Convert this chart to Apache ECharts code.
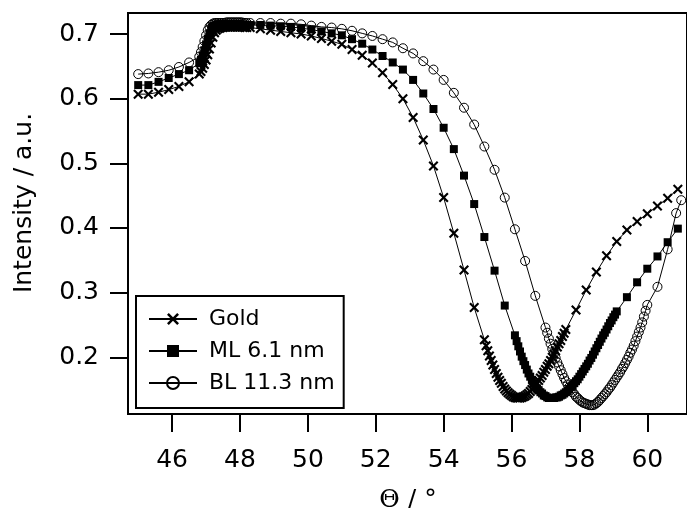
<!DOCTYPE html>
<html><head><meta charset="utf-8">
<script src="https://cdn.jsdelivr.net/npm/echarts@6/dist/echarts.min.js"></script>
<style>html,body{margin:0;padding:0;background:#fff}#c{width:687px;height:508px}</style>
</head><body><div id="c"></div>
<script>
// ---------- data (angle in degrees, intensity in a.u.) ----------
const startAngles = [45.0,45.3,45.6,45.9,46.2,46.5,46.8];
const criticalAngles = [46.85,46.9,46.95,47.0,47.05,47.1,47.15,47.2,47.25,47.3,47.35,47.4,47.45,47.5,47.55,47.6,47.65,47.7,47.75,47.8,47.85,47.9,47.95,48.0,48.05,48.1,48.15,48.2];

const goldAnglesTail = [48.3,48.6,48.9,49.2,49.5,49.8,50.1,50.4,50.7,51.0,51.3,51.6,51.9,52.2,52.5,52.8,53.1,53.4,53.7,54.0,54.3,54.6,54.9,
 55.2,55.25,55.3,55.35,55.4,55.45,55.5,55.55,55.6,55.65,55.7,55.75,55.8,55.85,55.9,55.95,56.0,56.05,56.1,56.15,56.2,56.25,56.3,56.35,56.4,56.45,56.5,56.55,56.6,56.65,56.7,56.75,56.8,56.85,56.9,56.95,57.0,57.05,57.1,57.15,57.2,57.25,57.3,57.35,57.4,57.45,57.5,57.55,57.6,
 57.9,58.2,58.5,58.8,59.1,59.4,59.7,60.0,60.3,60.6,60.9];
const goldStart = [0.607,0.607,0.610,0.614,0.619,0.626,0.638];
const goldCritical = [0.642,0.647,0.653,0.660,0.668,0.677,0.686,0.695,0.702,0.706,0.708,0.709,0.710,0.710,0.711,0.711,0.711,0.711,0.711,0.711,0.711,0.711,0.711,0.711,0.711,0.711,0.710,0.710];
const goldTail = [0.710,0.708,0.706,0.704,0.702,0.700,0.697,0.693,0.689,0.684,0.676,0.667,0.655,0.640,0.622,0.600,0.571,0.536,0.496,0.447,0.392,0.335,0.277,
 0.227,0.218,0.210,0.202,0.195,0.188,0.181,0.175,0.169,0.164,0.160,0.155,0.151,0.148,0.145,0.143,0.141,0.139,0.138,0.137,0.137,0.137,0.138,0.139,0.140,0.142,0.144,0.147,0.150,0.153,0.157,0.160,0.164,0.168,0.172,0.177,0.181,0.186,0.190,0.195,0.200,0.205,0.210,0.216,0.221,0.226,0.232,0.237,0.243,
 0.273,0.304,0.332,0.357,0.379,0.397,0.410,0.422,0.434,0.446,0.460];

const mlAnglesTail = [48.3,48.6,48.9,49.2,49.5,49.8,50.1,50.4,50.7,51.0,51.3,51.6,51.9,52.2,52.5,52.8,53.1,53.4,53.7,54.0,54.3,54.6,54.9,55.2,55.5,55.8,
 56.1,56.15,56.2,56.25,56.3,56.35,56.4,56.45,56.5,56.55,56.6,56.65,56.7,56.75,56.8,56.85,56.9,56.95,57.0,57.05,57.1,57.15,57.2,57.25,57.3,57.35,57.4,57.45,57.5,57.55,57.6,57.65,57.7,57.75,57.8,57.85,57.9,57.95,58.0,58.05,58.1,58.15,58.2,58.25,58.3,58.35,58.4,58.45,58.5,58.55,58.6,58.65,58.7,58.75,58.8,58.85,58.9,58.95,59.0,59.05,59.1,
 59.4,59.7,60.0,60.3,60.6,60.9];
const mlStart = [0.621,0.621,0.626,0.632,0.638,0.644,0.655];
const mlCritical = [0.660,0.667,0.675,0.684,0.693,0.701,0.707,0.711,0.713,0.714,0.715,0.715,0.715,0.715,0.715,0.715,0.715,0.715,0.715,0.715,0.715,0.715,0.715,0.715,0.715,0.714,0.714,0.714];
const mlTail = [0.714,0.714,0.713,0.712,0.711,0.709,0.707,0.704,0.701,0.698,0.692,0.685,0.676,0.666,0.656,0.645,0.629,0.608,0.584,0.555,0.522,0.481,0.437,0.386,0.334,0.280,
 0.234,0.225,0.217,0.209,0.201,0.194,0.188,0.181,0.175,0.170,0.165,0.160,0.156,0.152,0.149,0.146,0.144,0.141,0.140,0.138,0.137,0.137,0.137,0.137,0.138,0.138,0.139,0.141,0.142,0.144,0.146,0.148,0.151,0.154,0.157,0.160,0.163,0.166,0.170,0.174,0.178,0.182,0.186,0.190,0.195,0.199,0.204,0.209,0.214,0.219,0.224,0.229,0.234,0.238,0.243,0.248,0.253,0.257,0.262,0.266,0.271,
 0.293,0.316,0.337,0.356,0.378,0.399];

const blAnglesTail = [48.3,48.6,48.9,49.2,49.5,49.8,50.1,50.4,50.7,51.0,51.3,51.6,51.9,52.2,52.5,52.8,53.1,53.4,53.7,54.0,54.3,54.6,54.9,55.2,55.5,55.8,56.1,56.4,56.7,
 57.0,57.05,57.1,57.15,57.2,57.25,57.3,57.35,57.4,57.45,57.5,57.55,57.6,57.65,57.7,57.75,57.8,57.85,57.9,57.95,58.0,58.05,58.1,58.15,58.2,58.25,58.3,58.35,
 58.4,58.45,58.5,58.55,58.6,58.65,58.7,58.75,58.8,58.85,58.9,58.95,59.0,59.05,59.1,59.15,59.2,59.25,59.3,59.35,59.4,59.45,59.5,59.55,59.6,59.65,59.7,59.75,59.8,59.85,59.9,59.95,60.0,
 60.3,60.6,60.85,61.0];
const blStart = [0.638,0.639,0.641,0.644,0.649,0.656,0.665];
const blCritical = [0.672,0.680,0.689,0.698,0.706,0.711,0.714,0.716,0.717,0.717,0.717,0.717,0.717,0.717,0.717,0.718,0.718,0.718,0.718,0.718,0.718,0.718,0.718,0.718,0.718,0.717,0.717,0.717];
const blTail = [0.717,0.717,0.717,0.716,0.716,0.715,0.713,0.711,0.710,0.708,0.705,0.701,0.697,0.692,0.687,0.678,0.670,0.658,0.645,0.629,0.609,0.586,0.560,0.526,0.490,0.447,0.398,0.349,0.295,
 0.246,0.238,0.229,0.221,0.213,0.206,0.199,0.192,0.186,0.180,0.174,0.168,0.163,0.158,0.154,0.150,0.146,0.143,0.139,0.137,0.134,0.132,0.130,0.129,0.128,0.127,0.126,0.126,
 0.126,0.127,0.129,0.131,0.134,0.137,0.140,0.143,0.146,0.150,0.153,0.157,0.161,0.165,0.169,0.173,0.177,0.182,0.186,0.191,0.196,0.201,0.207,0.212,0.218,0.225,0.232,0.239,0.246,0.254,0.263,0.272,0.281,
 0.309,0.367,0.423,0.443];

const xTicks = [46,48,50,52,54,56,58,60];
const yTicks = [0.2,0.3,0.4,0.5,0.6,0.7];
const seriesNames = ['Gold','ML 6.1 nm','BL 11.3 nm'];
const xTitle = '{t|Θ} / °';
const yTitle = 'Intensity / a.u.';

// ---------- build ----------
function pairs(a, b){ return a.map((x,i)=>[x,b[i]]); }
const goldData = pairs([...startAngles,...criticalAngles,...goldAnglesTail],[...goldStart,...goldCritical,...goldTail]);
const mlData = pairs([...startAngles,...criticalAngles,...mlAnglesTail],[...mlStart,...mlCritical,...mlTail]);
const blData = pairs([...startAngles,...criticalAngles,...blAnglesTail],[...blStart,...blCritical,...blTail]);

const FONT = '"DejaVu Sans", Verdana, sans-serif';
const SERIF = '"DejaVu Serif", "Liberation Serif", serif';
const crossPath = 'path://M0,1.5L1.5,0L5,3.5L8.5,0L10,1.5L6.5,5L10,8.5L8.5,10L5,6.5L1.5,10L0,8.5L3.5,5Z';

const chart = echarts.init(document.getElementById('c'), null, {renderer:'canvas'});
const common = {
  type:'line', showAllSymbol:true, animation:false, silent:true,
  lineStyle:{color:'#000', width:1},
  emphasis:{disabled:true}
};
chart.setOption({
  backgroundColor:'#fff',
  animation:false,
  grid:{left:128, top:13, right:-2, height:401, show:true, borderColor:'#000', borderWidth:2, backgroundColor:'transparent'},
  xAxis:{
    type:'value', min:44.70, max:61.17,
    axisLine:{show:true, onZero:false, lineStyle:{color:'#000', width:2}},
    axisTick:{show:true, inside:false, length:18, customValues:xTicks, lineStyle:{color:'#000', width:2}},
    axisLabel:{customValues:xTicks, color:'#000', fontFamily:FONT, fontSize:25, margin:34},
    splitLine:{show:false}
  },
  yAxis:{
    type:'value', min:0.1123, max:0.7325,
    axisLine:{show:true, onZero:false, lineStyle:{color:'#000', width:2}},
    axisTick:{show:true, inside:false, length:18, customValues:yTicks, lineStyle:{color:'#000', width:2}},
    axisLabel:{customValues:yTicks, color:'#000', fontFamily:FONT, fontSize:25, margin:29, formatter:v=>v.toFixed(1)},
    splitLine:{show:false}
  },
  graphic:[
    {type:'text', x:24, y:203, rotation:Math.PI/2, silent:true,
     style:{text:yTitle, fill:'#000', font:'25px ' + FONT, align:'center', verticalAlign:'middle'}},
    {type:'text', x:408, y:500, silent:true,
     style:{text:xTitle, fill:'#000', font:'25px ' + FONT, align:'center', verticalAlign:'middle',
            rich:{t:{fontFamily:SERIF, fontSize:25, fill:'#000'}}}}
  ],
  legend:{
    orient:'vertical', left:136, top:296,
    backgroundColor:'#fff', borderColor:'#000', borderWidth:2, borderRadius:0,
    padding:[12,9,14,12], itemGap:10, itemWidth:48, itemHeight:15,
    textStyle:{color:'#000', fontFamily:FONT, fontSize:22, padding:[0,0,0,7]},
    data:seriesNames
  },
  series:[
    Object.assign({}, common, {name:seriesNames[0], data:goldData, symbol:crossPath, symbolSize:10, itemStyle:{color:'#000', borderWidth:0}, z:3}),
    Object.assign({}, common, {name:seriesNames[1], data:mlData, symbol:'rect', symbolSize:8, itemStyle:{color:'#000', borderWidth:0}, z:4}),
    Object.assign({}, common, {name:seriesNames[2], data:blData, symbol:'circle', symbolSize:9, itemStyle:{color:'rgba(0,0,0,0)', borderColor:'#000', borderWidth:1}, z:5})
  ]
});
</script></body></html>
